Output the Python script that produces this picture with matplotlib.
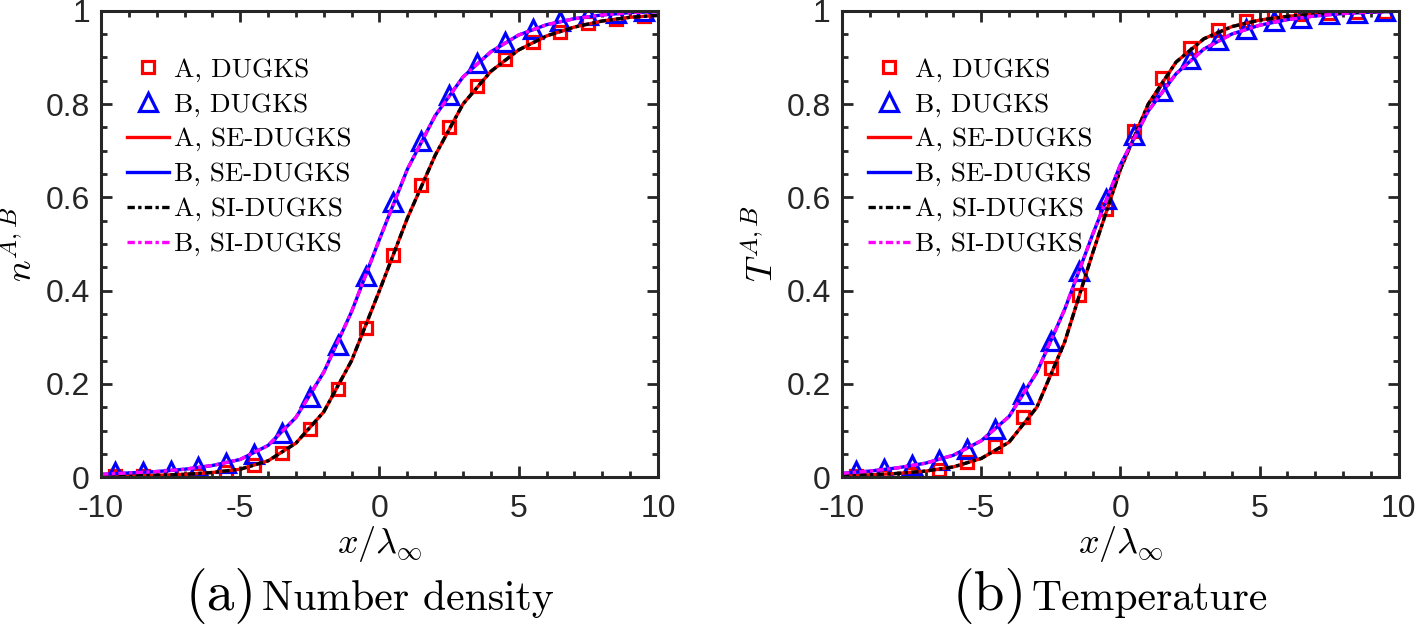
import numpy as np
import matplotlib
matplotlib.use("Agg")
import matplotlib.pyplot as plt
from matplotlib.ticker import MultipleLocator

plt.rcParams['mathtext.fontset'] = 'cm'
plt.rcParams['font.family'] = 'Liberation Sans'
plt.rcParams['axes.unicode_minus'] = False

# marker positions (DUGKS)
x_dugks = [-9.5, -8.5, -7.5, -6.5, -5.5, -4.5, -3.5, -2.5, -1.5, -0.5,
           0.5, 1.5, 2.5, 3.5, 4.5, 5.5, 6.5, 7.5, 8.5, 9.5]
# line positions (SE/SI-DUGKS)
x_line = [-10, -9, -8, -7, -6, -5, -4, -3, -2, -1, 0,
          1, 2, 3, 4, 5, 6, 7, 8, 9, 10]

# (a) number density
nA_dugks = [0.003, 0.002, 0.003, 0.005, 0.011, 0.025, 0.052, 0.103, 0.19, 0.32,
            0.477, 0.627, 0.75, 0.838, 0.896, 0.934, 0.955, 0.973, 0.982, 0.989]
nB_dugks = [0.011, 0.011, 0.013, 0.022, 0.03, 0.05, 0.094, 0.171, 0.284, 0.432,
            0.59, 0.72, 0.82, 0.888, 0.932, 0.96, 0.977, 0.99, 0.996, 1.0]
nA_line = [0.002, 0.003, 0.004, 0.006, 0.01, 0.017, 0.035, 0.073, 0.14, 0.25, 0.40,
           0.555, 0.69, 0.80, 0.87, 0.916, 0.946, 0.965, 0.978, 0.986, 0.99]
nB_line = [0.006, 0.009, 0.012, 0.017, 0.025, 0.038, 0.068, 0.128, 0.225, 0.355, 0.51,
           0.66, 0.775, 0.858, 0.912, 0.948, 0.97, 0.983, 0.991, 0.996, 0.998]

# (b) temperature
TA_dugks = [0.002, 0.002, 0.006, 0.016, 0.032, 0.066, 0.13, 0.234, 0.39, 0.574,
            0.742, 0.855, 0.921, 0.958, 0.978, 0.991, 0.994, 0.996, 0.998, 0.998]
TB_dugks = [0.013, 0.018, 0.025, 0.037, 0.061, 0.104, 0.178, 0.291, 0.442, 0.597,
            0.734, 0.829, 0.896, 0.937, 0.96, 0.977, 0.984, 0.993, 0.996, 1.0]
TA_line = [0.003, 0.005, 0.008, 0.013, 0.022, 0.04, 0.075, 0.15, 0.29, 0.48, 0.66,
           0.80, 0.89, 0.94, 0.966, 0.98, 0.988, 0.993, 0.996, 0.998, 0.999]
TB_line = [0.008, 0.013, 0.02, 0.03, 0.047, 0.078, 0.13, 0.225, 0.36, 0.52, 0.67,
           0.785, 0.865, 0.918, 0.95, 0.969, 0.981, 0.989, 0.994, 0.997, 0.999]

legend_labels = ['A, DUGKS', 'B, DUGKS', 'A, SE-DUGKS', 'B, SE-DUGKS', 'A, SI-DUGKS', 'B, SI-DUGKS']

panels = [
    (r'$n^{A,B}$', '(a)', 'Number density', nA_dugks, nB_dugks, nA_line, nB_line),
    (r'$T^{A,B}$', '(b)', 'Temperature', TA_dugks, TB_dugks, TA_line, TB_line),
]

fig = plt.figure(figsize=(14.17, 6.32), dpi=100)
lefts = [0.0713, 0.5942]
axw = 0.393
axcol = '#262626'
mag = '#ff00ff'
si_dash = (2.2, 1.0, 1.0, 1.0)

captions = []
for k, (ylab, tag, cap, a_pts, b_pts, a_ln, b_ln) in enumerate(panels):
    ax = fig.add_axes([lefts[k], 0.245, axw, 0.738])
    ax.plot(x_dugks, a_pts, 's', color='r', mfc='none', mew=2.3, ms=9, label=legend_labels[0])
    ax.plot(x_dugks, b_pts, '^', color='b', mfc='none', mew=2.3, ms=13, label=legend_labels[1])
    ax.plot(x_line, a_ln, '-', color='r', lw=2.4, label=legend_labels[2])
    ax.plot(x_line, b_ln, '-', color='b', lw=2.4, label=legend_labels[3])
    ax.plot(x_line, a_ln, color='k', lw=2.4, dashes=si_dash, label=legend_labels[4])
    ax.plot(x_line, b_ln, color=mag, lw=2.4, dashes=si_dash, label=legend_labels[5])

    ax.set_xlim(-10, 10)
    ax.set_ylim(0, 1)
    ax.set_xticks([-10, -5, 0, 5, 10])
    ax.set_yticks([0, 0.2, 0.4, 0.6, 0.8, 1])
    ax.set_yticklabels(['0', '0.2', '0.4', '0.6', '0.8', '1'])
    ax.xaxis.set_minor_locator(MultipleLocator(1))
    ax.yaxis.set_minor_locator(MultipleLocator(0.05))
    ax.tick_params(which='both', direction='in', top=True, right=True, color=axcol,
                   labelsize=23, labelcolor='#262626', width=2)
    ax.tick_params(axis='x', which='major', pad=12)
    ax.tick_params(axis='y', which='major', pad=8)
    ax.tick_params(which='major', length=8)
    ax.tick_params(which='minor', length=4)
    for s in ax.spines.values():
        s.set_linewidth(2.2)
        s.set_color(axcol)

    ax.set_xlabel(r'$x/\lambda_\infty$', fontsize=26, labelpad=0)
    ax.set_ylabel(ylab, fontsize=26, labelpad=4)

    ax.legend(loc='upper left', bbox_to_anchor=(0.046, 0.9), frameon=False,
              prop={'family': 'cmr10', 'size': 19.5},
              handlelength=1.55, handletextpad=0.2, labelspacing=0.4,
              borderpad=0, borderaxespad=0)

    t1 = fig.text(0, 0.035, tag, family='cmr10', fontsize=40, ha='left', va='baseline')
    t2 = fig.text(0, 0.035, cap, family='cmr10', fontsize=30, ha='left', va='baseline')
    captions.append((lefts[k] + axw / 2 - 10 / 1417, t1, t2))

# centre each caption under its panel
fig.canvas.draw()
r = fig.canvas.get_renderer()
W = fig.bbox.width
gap = 5
for cx, t1, t2 in captions:
    w1 = t1.get_window_extent(r).width
    w2 = t2.get_window_extent(r).width
    x0 = cx * W - (w1 + gap + w2) / 2
    t1.set_x(x0 / W)
    t2.set_x((x0 + w1 + gap) / W)

fig.savefig('out.png', dpi=100)
